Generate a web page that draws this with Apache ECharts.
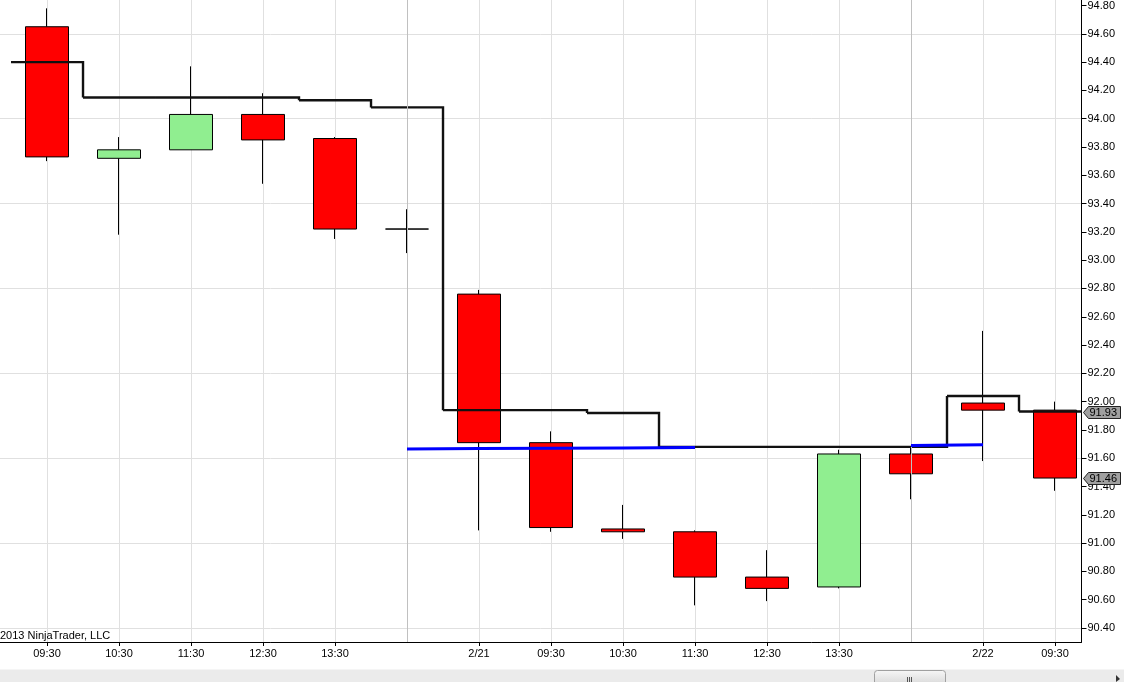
<!DOCTYPE html>
<html><head><meta charset="utf-8">
<script src="https://cdn.jsdelivr.net/npm/echarts@6/dist/echarts.min.js"></script>
<style>html,body{margin:0;padding:0;background:#fff;overflow:hidden}#c{width:1124px;height:682px}</style>
</head><body><div id="c"></div>
<script>
// ---- data ----
const xLabels = ['09:30','10:30','11:30','12:30','13:30','','2/21','09:30','10:30','11:30','12:30','13:30','','2/22','09:30'];
const opens  = [94.65, 93.72, 93.78, 94.03, 93.86, 93.22, 92.76, 91.71, 91.10, 91.08, 90.76, 90.69, 91.63, 91.99, 91.94];
const closes = [93.73, 93.78, 94.03, 93.85, 93.22, 93.22, 91.71, 91.11, 91.08, 90.76, 90.68, 91.63, 91.49, 91.94, 91.46];
const lows   = [93.70, 93.18, 93.78, 93.54, 93.15, 93.05, 91.09, 91.08, 91.03, 90.56, 90.59, 90.68, 91.31, 91.58, 91.37];
const highs  = [94.78, 93.87, 94.37, 94.18, 93.87, 93.36, 92.79, 91.79, 91.27, 91.09, 90.95, 91.66, 91.68, 92.50, 92.00];
const stopLine = [94.40, 94.15, 94.15, 94.15, 94.13, 94.08, 91.94, 91.94, 91.92, 91.68, 91.68, 91.68, 91.68, 92.04, 91.93];
const blueLine = [null, null, null, null, null, 91.665, 91.668, 91.670, 91.672, 91.675, null, null, 91.69, 91.695, null];
const xTickIdx = [0, 1, 2, 3, 4, 6, 7, 8, 9, 10, 11, 13, 14];
const sessionBreaks = [5, 12];
const yTicks = [90.40, 90.60, 90.80, 91.00, 91.20, 91.40, 91.60, 91.80, 92.00, 92.20, 92.40, 92.60, 92.80, 93.00, 93.20, 93.40, 93.60, 93.80, 94.00, 94.20, 94.40, 94.60, 94.80];
const yGrid = [90.40, 91.00, 91.60, 92.20, 92.80, 93.40, 94.00, 94.60];
const badgeValues = [91.93, 91.46];
const copyright = '2013 NinjaTrader, LLC';

// ---- view ----
const X_MIN = -0.653, X_MAX = 14.368, Y_MIN = 90.301, Y_MAX = 94.839;
const FONT = '"Liberation Sans", Arial, sans-serif';
const chart = echarts.init(document.getElementById('c'), null, {renderer: 'canvas'});

const candleData = opens.map((o, i) => [i, o, closes[i], lows[i], highs[i]]);
const stopData = stopLine.map((v, i) => [i, v, i + 1 < stopLine.length ? stopLine[i + 1] : v]);
const blueData = blueLine.map((v, i) => [i, v]);

chart.setOption({
  animation: false,
  backgroundColor: '#ffffff',
  grid: {left: 0, right: 42.5, top: 0, bottom: 40, containLabel: false},
  xAxis: {
    type: 'value', min: X_MIN, max: X_MAX, position: 'bottom',
    axisLine: {show: true, onZero: false, lineStyle: {color: '#000', width: 1}},
    axisTick: {show: true, length: 4, inside: false, customValues: xTickIdx, lineStyle: {color: '#000'}},
    axisLabel: {show: true, customValues: xTickIdx, margin: 6, color: '#000', fontFamily: FONT, fontSize: 11,
      formatter: v => xLabels[Math.round(v)]},
    splitLine: {show: true, lineStyle: {color: '#e0e0e0', width: 1}}
  },
  yAxis: [{
    type: 'value', min: Y_MIN, max: Y_MAX, position: 'right', scale: true,
    axisLine: {show: true, onZero: false, lineStyle: {color: '#000', width: 1}},
    axisTick: {show: true, length: 5, customValues: yTicks, lineStyle: {color: '#000'}},
    axisLabel: {show: true, customValues: yTicks, margin: 6, color: '#000', fontFamily: FONT, fontSize: 11,
      formatter: v => v.toFixed(2)},
    splitLine: {show: false}
  }, {
    type: 'value', min: Y_MIN, max: Y_MAX, position: 'right', scale: true,
    axisLine: {show: false}, axisLabel: {show: false},
    axisTick: {show: false, customValues: yGrid},
    splitLine: {show: true, lineStyle: {color: '#e0e0e0', width: 1}}
  }],
  series: [{
    type: 'line', data: [], z: 1, silent: true,
    markLine: {
      silent: true, symbol: ['none', 'none'], animation: false,
      label: {show: false},
      lineStyle: {color: '#c0c0c0', width: 1, type: 'solid'},
      data: sessionBreaks.map(b => ({xAxis: b}))
    }
  }, {
    type: 'candlestick', name: 'Price', z: 3,
    encode: {x: 0, y: [1, 2, 3, 4]},
    barWidth: 44,
    data: candleData,
    itemStyle: {
      color: '#90ee90', color0: '#ff0000',
      borderColor: '#000', borderColor0: '#000', borderColorDoji: '#000', borderWidth: 1
    }
  }, {
    type: 'custom', name: 'Stop', z: 4, clip: true,
    data: stopData,
    encode: {x: 0, y: 1},
    renderItem: (params, api) => {
      const i = api.value(0), v = api.value(1), nv = api.value(2);
      const p = api.coord([i, v]);
      const half = api.size([1, 0])[0] / 2;
      const ny = api.coord([i, nv])[1];
      const pts = [[p[0] - half, p[1]], [p[0] + half, p[1]], [p[0] + half, ny]];
      return {type: 'polyline', shape: {points: pts},
        style: {stroke: '#111', lineWidth: 2.4, fill: null, lineJoin: 'miter'}};
    }
  }, {
    type: 'line', name: 'Level', z: 5,
    data: blueData, symbol: 'none', connectNulls: false,
    lineStyle: {color: '#0000ff', width: 3}
  }]
});

// ---- badges & decorations ----
const axisX = chart.convertToPixel({xAxisIndex: 0}, X_MAX);
const graphics = [];
badgeValues.forEach(val => {
  const y = Math.round(chart.convertToPixel({yAxisIndex: 0}, val)) + 0.5;
  const x0 = Math.round(axisX) + 0.5;
  graphics.push({type: 'polygon', z: 100,
    shape: {points: [[x0 + 1, y], [x0 + 6, y - 6], [x0 + 38, y - 6], [x0 + 38, y + 6], [x0 + 6, y + 6]]},
    style: {fill: '#a0a0a0', stroke: '#222', lineWidth: 1}});
  graphics.push({type: 'text', z: 101, x: x0 + 7, y: y,
    style: {text: val.toFixed(2), font: '11px ' + FONT, fill: '#000', verticalAlign: 'middle', align: 'left'}});
});
graphics.push({type: 'text', z: 50, x: 0, y: 636,
  style: {text: copyright, font: '11px ' + FONT, fill: '#000', verticalAlign: 'middle', align: 'left'}});
// scrollbar
graphics.push({type: 'rect', z: 10, shape: {x: 0, y: 669, width: 1124, height: 13}, style: {fill: '#ebebeb'}});
graphics.push({type: 'line', z: 11, shape: {x1: 0, y1: 669.5, x2: 1124, y2: 669.5}, style: {stroke: '#f5f5f5', lineWidth: 1}});
graphics.push({type: 'rect', z: 12, shape: {x: 874.5, y: 670.5, width: 71, height: 14, r: [3, 3, 0, 0]},
  style: {fill: new echarts.graphic.LinearGradient(0, 0, 0, 1, [{offset: 0, color: '#f7f7f7'}, {offset: 1, color: '#d8d8d8'}]), stroke: '#a0a0a0', lineWidth: 1}});
[907.5, 909.5, 911.5].forEach(gx => graphics.push({type: 'line', z: 13,
  shape: {x1: gx, y1: 677, x2: gx, y2: 682}, style: {stroke: '#555', lineWidth: 1}}));
graphics.push({type: 'polygon', z: 13, shape: {points: [[1116, 675], [1116, 682], [1120, 679]]}, style: {fill: '#333'}});
chart.setOption({graphic: graphics});
</script>
</body></html>
